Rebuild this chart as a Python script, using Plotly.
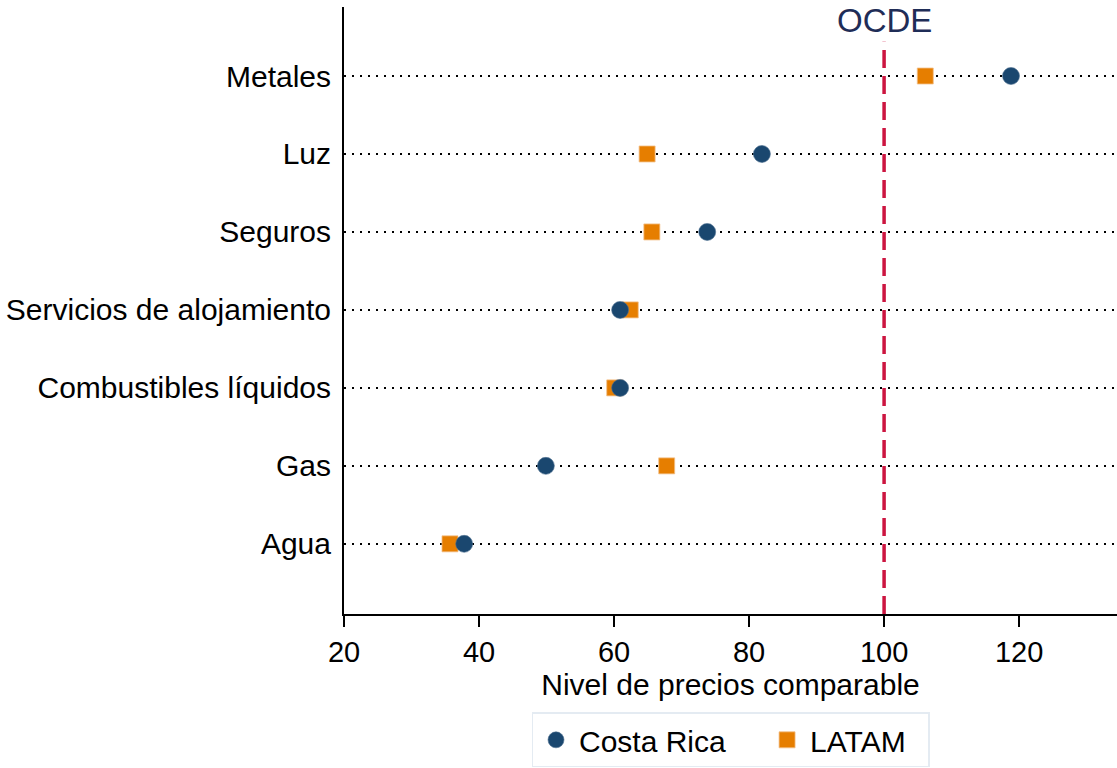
import plotly.graph_objects as go

# categories bottom -> top
categorias = ["Agua", "Gas", "Combustibles líquidos", "Servicios de alojamiento",
              "Seguros", "Luz", "Metales"]
costa_rica = [37.8, 49.9, 60.9, 60.9, 73.8, 81.9, 118.8]
latam = [35.7, 67.8, 60.1, 62.4, 65.6, 64.9, 106.1]
ocde = 100
x_ticks = [20, 40, 60, 80, 100, 120]

pos = list(range(len(categorias)))
font = "Liberation Sans, Arial, Helvetica, sans-serif"
navy = "#1a476f"
orange = "#e67e00"

fig = go.Figure()

# LATAM first so Costa Rica dots sit on top where they overlap
fig.add_trace(go.Scatter(
    x=latam, y=pos, mode="markers", name="LATAM&nbsp;&nbsp;",
    marker=dict(symbol="square", size=16, color=orange,
                line=dict(color="#f3c08a", width=0.8)),
    cliponaxis=False,
))
fig.add_trace(go.Scatter(
    x=costa_rica, y=pos, mode="markers", name="Costa Rica" + "&nbsp;" * 4,
    marker=dict(symbol="circle", size=17, color=navy,
                line=dict(color="#4f7091", width=0.6)),
    cliponaxis=False,
))

# OECD reference line
fig.add_shape(type="line", x0=ocde, x1=ocde, y0=-0.9, y1=6.44,
              xref="x", yref="y",
              line=dict(color="#cc1540", width=3.5, dash="18px,8px"))
fig.add_annotation(x=ocde, y=1, xref="x", yref="paper", yanchor="middle",
                   yshift=-13, text="OCDE", showarrow=False,
                   font=dict(family=font, size=33, color="#1f2d57"))

fig.update_xaxes(
    range=[20, 134.5], tickvals=x_ticks, ticks="outside", ticklen=11,
    tickwidth=2, tickcolor="black", showline=True, linecolor="black",
    linewidth=2, showgrid=False, zeroline=False,
    tickfont=dict(family=font, size=29, color="black"),
    title=dict(text="Nivel de precios comparable", standoff=0,
               font=dict(family=font, size=30, color="black")),
)
fig.update_yaxes(
    range=[-0.9, 6.885], tickvals=pos, ticktext=categorias,
    showline=True, linecolor="black", linewidth=2, ticks="",
    showgrid=True, gridcolor="black", gridwidth=2, griddash="2px,6px",
    zeroline=False, ticklabelstandoff=5,
    tickfont=dict(family=font, size=30, color="black"),
)

fig.update_layout(
    width=1117, height=768,
    margin=dict(l=344, r=0, t=7, b=154),
    paper_bgcolor="white", plot_bgcolor="white",
    showlegend=True,
    legend=dict(
        orientation="h", x=0.5, xanchor="center", y=-0.162, yanchor="top",
        traceorder="reversed", bordercolor="#e4ebf2", borderwidth=1.5,
        bgcolor="white", font=dict(family=font, size=30, color="black"),
        itemsizing="trace", itemwidth=36,
    ),
)

fig.write_html(
    "out.html",
    config={"displayModeBar": False},
    post_script="document.body.style.margin='0';document.body.style.overflow='hidden';",
)
